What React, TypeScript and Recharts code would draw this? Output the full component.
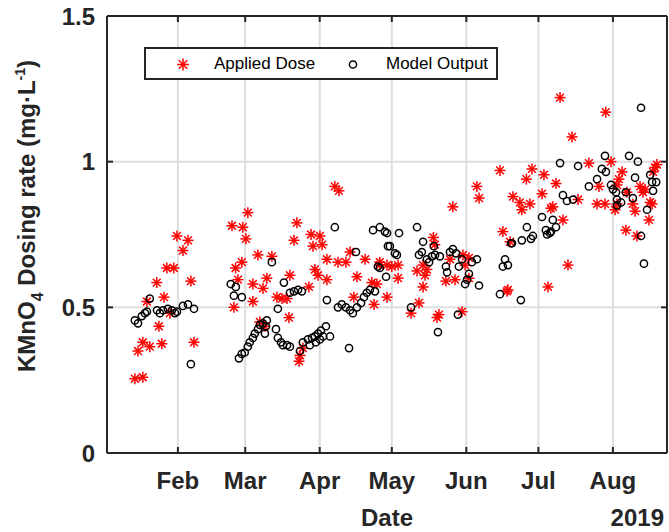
import React from 'react';
import { ScatterChart, Scatter, XAxis, YAxis, CartesianGrid, Legend, ReferenceLine } from 'recharts';

const FONT = '"Liberation Sans", Arial, Helvetica, sans-serif';
const INK = '#262626';

// x = day of year 2019, month ticks on the 1st
const MONTH_TICKS = [32, 60, 91, 121, 152, 182, 213];
const MONTH_LABELS = ['Feb', 'Mar', 'Apr', 'May', 'Jun', 'Jul', 'Aug'];
const DAY_RANGE: [number, number] = [2.5, 235.5];
const DOSE_TICKS = [0, 0.5, 1, 1.5];

// [day, mg/L]
const APPLIED_DOSE: [number, number][] = [
  [14.1, 0.255], [17.4, 0.26], [15.4, 0.35], [17.4, 0.38], [20.3, 0.365], [25.3, 0.375],
  [24.1, 0.435], [19.1, 0.52], [23.2, 0.585], [26.2, 0.535], [27.4, 0.635], [30.3, 0.635],
  [31.6, 0.745], [36.2, 0.73], [34.1, 0.695], [37.4, 0.59], [38.7, 0.38], [28.7, 0.48],
  [54.5, 0.78], [59.0, 0.775], [61.1, 0.825], [60.3, 0.735], [81.5, 0.79], [80.3, 0.73],
  [97.3, 0.915], [99.0, 0.9], [56.0, 0.635], [58.6, 0.655], [57.0, 0.595], [55.3, 0.5],
  [63.2, 0.58], [65.3, 0.68], [63.2, 0.52], [67.4, 0.565], [69.0, 0.6], [71.1, 0.675],
  [66.1, 0.45], [68.2, 0.435], [73.2, 0.535], [75.3, 0.53], [77.4, 0.53], [78.6, 0.61],
  [78.2, 0.465], [82.8, 0.335], [82.4, 0.315], [84.0, 0.36], [86.5, 0.57], [89.0, 0.63],
  [90.3, 0.61], [87.4, 0.75], [91.1, 0.745], [92.0, 0.715], [88.2, 0.71], [94.0, 0.595],
  [94.0, 0.665], [98.6, 0.655], [101.9, 0.655], [103.6, 0.69], [106.5, 0.605], [109.9, 0.665],
  [112.7, 0.585], [114.8, 0.58], [105.2, 0.535], [113.6, 0.51], [116.0, 0.655], [119.0, 0.535],
  [116, 0.645], [119, 0.645], [121, 0.64], [123.6, 0.645], [123.6, 0.6], [131.5, 0.625],
  [134, 0.645], [135.6, 0.63], [134.8, 0.61], [138.3, 0.74], [138.9, 0.715], [134, 0.57],
  [132.3, 0.515], [129, 0.48], [140.6, 0.475], [139.8, 0.465], [143.5, 0.59], [147.3, 0.595],
  [145.2, 0.665], [150.6, 0.68], [153.1, 0.67], [151.5, 0.645], [150.2, 0.485], [153.1, 0.6],
  [146.4, 0.845], [156.4, 0.915], [157.3, 0.875], [166, 0.97], [167.2, 0.76], [170.2, 0.725],
  [168.9, 0.555], [169.3, 0.56], [171.4, 0.88], [174.3, 0.86], [175.1, 0.835], [177, 0.94],
  [178.5, 0.855], [179.3, 0.975], [183.5, 0.89], [184.3, 0.955], [186, 0.57], [187.2, 0.84],
  [188, 0.845], [189.3, 0.925], [191, 1.22], [192.2, 0.8], [194.3, 0.645], [196, 1.085],
  [198.5, 0.87], [203, 0.995], [206.4, 0.855], [207.2, 0.915], [209.7, 0.855], [210, 1.17],
  [212.2, 1.0], [213.9, 0.835], [214.7, 0.855], [214.7, 0.92], [215.5, 0.94], [216.8, 0.965],
  [218.4, 0.765], [218.8, 0.895], [221.3, 0.855], [222.2, 0.83], [223, 0.745], [224.3, 0.915],
  [225.5, 0.895], [226.4, 0.905], [228, 0.8], [228.5, 0.86], [229.3, 0.855], [229.7, 0.965],
  [230.5, 0.98], [231.3, 0.99],
];

const MODEL_OUTPUT: [number, number][] = [
  [14.1, 0.455], [15.4, 0.445], [17, 0.47], [18.3, 0.48], [19.1, 0.485], [20.3, 0.53],
  [23.3, 0.49], [24.5, 0.48], [25.8, 0.49], [27.8, 0.495], [29.5, 0.49], [30.8, 0.48],
  [31.6, 0.485], [34.1, 0.505], [36.2, 0.51], [38.7, 0.495], [37.4, 0.305],
  [54, 0.58], [56.1, 0.57], [55.3, 0.54], [58.6, 0.535], [57.4, 0.325], [58.6, 0.34],
  [59.8, 0.345], [61.1, 0.365], [61.9, 0.38], [63.2, 0.395], [64, 0.41], [65.3, 0.425],
  [66.1, 0.44], [67.4, 0.445], [69, 0.455], [68.2, 0.41], [68.6, 0.435], [71.1, 0.655],
  [72.8, 0.425], [73.6, 0.395], [74.9, 0.38], [75.7, 0.37], [77.4, 0.37], [78.6, 0.365],
  [73.6, 0.495], [76.1, 0.585], [78.6, 0.55], [80.3, 0.555], [82, 0.56], [83.6, 0.555],
  [82.8, 0.35], [84, 0.38], [86.1, 0.39], [87.8, 0.395], [89, 0.4], [90.3, 0.41],
  [91.5, 0.42], [93.6, 0.435], [86.9, 0.37], [89.4, 0.38], [91.1, 0.39], [92.4, 0.4],
  [95.3, 0.4], [94, 0.525], [97.3, 0.775], [98.6, 0.5], [100.2, 0.51], [101.9, 0.5],
  [103.6, 0.49], [104.8, 0.48], [103.2, 0.36], [106.1, 0.69], [106.5, 0.5], [108.2, 0.515],
  [109.4, 0.535], [110.6, 0.55], [111.9, 0.56], [114, 0.555], [115.2, 0.64], [118.6, 0.605],
  [119.4, 0.71], [113.2, 0.765], [116, 0.775], [118.1, 0.76], [119, 0.755], [124, 0.755],
  [120.2, 0.71], [122.3, 0.685], [123.1, 0.68], [116, 0.635],
  [131.5, 0.775], [134, 0.725], [132.3, 0.68], [133.5, 0.69], [135.6, 0.665], [136.5, 0.655],
  [137.7, 0.675], [138.5, 0.71], [139, 0.68], [141, 0.675], [143.5, 0.64], [144, 0.62],
  [145.2, 0.69], [146.4, 0.7], [147.7, 0.685], [148.9, 0.64], [150.2, 0.665], [153.1, 0.615],
  [154.3, 0.655], [156.4, 0.665], [157.3, 0.575], [151.5, 0.58], [152.3, 0.595], [129, 0.5],
  [140.2, 0.415], [148.5, 0.475], [168.1, 0.665], [167.2, 0.64], [169.3, 0.645], [166, 0.545],
  [174.7, 0.525], [170.6, 0.72], [171, 0.72], [175.1, 0.73], [177.2, 0.775], [178.9, 0.735],
  [179.7, 0.745], [183.5, 0.81], [185.1, 0.765], [185.6, 0.75], [186.8, 0.755], [187.2, 0.76],
  [188, 0.8], [189.3, 0.775], [191, 0.995], [192.2, 0.885], [193.9, 0.865], [196.4, 0.87],
  [198.5, 0.985], [203, 0.915], [206.4, 0.94], [208.4, 0.975], [210.1, 0.965], [209.7, 1.02],
  [212.2, 0.92], [213, 0.905], [214.3, 0.895], [214.7, 0.87], [216.4, 0.86], [214.7, 0.85],
  [218.4, 0.895], [219.7, 1.02], [221.3, 0.875], [222.2, 0.945], [223.4, 1.0], [224.7, 1.185],
  [224.7, 0.745], [225.9, 0.65], [227.2, 0.835], [228.5, 0.955], [229.3, 0.93], [229.7, 0.9],
  [231, 0.93],
];

const appliedPts = APPLIED_DOSE.map(([day, value]) => ({ day, value }));
const modelPts = MODEL_OUTPUT.map(([day, value]) => ({ day, value }));

// plot box edges (chart margins + axis sizes)
const PLOT_TOP = 16;
const PLOT_RIGHT = 667;
const TICK_LEN = 6;

const StarMark = ({ cx, cy, r = 5.5 }: any) => {
  const d = r * 0.707;
  return (
    <g stroke="#ff0000" strokeWidth={1.5}>
      <line x1={cx - r} y1={cy} x2={cx + r} y2={cy} />
      <line x1={cx} y1={cy - r} x2={cx} y2={cy + r} />
      <line x1={cx - d} y1={cy - d} x2={cx + d} y2={cy + d} />
      <line x1={cx - d} y1={cy + d} x2={cx + d} y2={cy - d} />
    </g>
  );
};

const CircleMark = ({ cx, cy }: any) => (
  <circle cx={cx} cy={cy} r={3.6} fill="none" stroke="#000" strokeWidth={1.5} />
);

const LegendBox = () => (
  <div style={{
    width: 354, height: 33, boxSizing: 'border-box', border: `2.5px solid ${INK}`,
    background: '#fff', position: 'relative', fontFamily: FONT, fontSize: 17, color: '#000',
  }}>
    <svg width={354} height={30} style={{ position: 'absolute', left: -2.5, top: -1 }}>
      <StarMark cx={39} cy={16.5} r={6} />
      <CircleMark cx={209} cy={16.5} />
    </svg>
    <span style={{ position: 'absolute', left: 68, top: 5, lineHeight: '20px' }}>Applied Dose</span>
    <span style={{ position: 'absolute', left: 240, top: 5, lineHeight: '20px' }}>Model Output</span>
  </div>
);

const labelStyle = { fontSize: 24, fontWeight: 'bold' as const, fill: INK, fontFamily: FONT };

// month label plus inward ticks on bottom and top edges
const MonthTick = ({ x, y, payload }: any) => {
  const axisY = y - 19;
  return (
    <g>
      <line x1={x} x2={x} y1={axisY} y2={axisY - TICK_LEN} stroke={INK} strokeWidth={2} />
      <line x1={x} x2={x} y1={PLOT_TOP} y2={PLOT_TOP + TICK_LEN} stroke={INK} strokeWidth={2} />
      <text x={x} y={y} dy="0.71em" textAnchor="middle" {...labelStyle}>
        {MONTH_LABELS[MONTH_TICKS.indexOf(payload.value)]}
      </text>
    </g>
  );
};

// dose label plus inward ticks on left and right edges
const DoseTick = ({ x, y, payload }: any) => {
  const axisX = x + 12;
  return (
    <g>
      <line x1={axisX} x2={axisX + TICK_LEN} y1={y} y2={y} stroke={INK} strokeWidth={2} />
      <line x1={PLOT_RIGHT} x2={PLOT_RIGHT - TICK_LEN} y1={y} y2={y} stroke={INK} strokeWidth={2} />
      <text x={x} y={y} dy="0.355em" textAnchor="end" {...labelStyle}>{String(payload.value)}</text>
    </g>
  );
};

export default function App() {
  return (
    <div style={{ position: 'absolute', left: 0, top: 0, width: 669, height: 532, background: '#fff', fontFamily: FONT }}>
      <ScatterChart width={669} height={532} margin={{ top: PLOT_TOP, right: 2, bottom: 39, left: 47 }}>
        <CartesianGrid xAxisId="x" yAxisId="y" stroke="#dedede" strokeWidth={2} />
        <Legend
          layout="horizontal" verticalAlign="middle" content={() => <LegendBox />}
          wrapperStyle={{ left: 144, top: 47, width: 354, height: 33 }}
        />
        <Scatter name="Applied Dose" data={appliedPts} dataKey="value" xAxisId="x" yAxisId="y"
          shape={StarMark} isAnimationActive={false} />
        <Scatter name="Model Output" data={modelPts} dataKey="value" xAxisId="x" yAxisId="y"
          shape={CircleMark} isAnimationActive={false} />
        <ReferenceLine xAxisId="x" yAxisId="y" y={1.5} stroke={INK} strokeWidth={2} />
        <ReferenceLine xAxisId="x" yAxisId="y" x={DAY_RANGE[1]} stroke={INK} strokeWidth={2} />
        <XAxis
          xAxisId="x" dataKey="day" type="number" domain={DAY_RANGE} ticks={MONTH_TICKS} interval={0}
          tickLine={false} axisLine={{ stroke: INK, strokeWidth: 2 }} height={40}
          tickSize={6} tickMargin={13} tick={MonthTick}
        />
        <YAxis
          yAxisId="y" type="number" domain={[0, 1.5]} ticks={DOSE_TICKS} interval={0}
          tickLine={false} axisLine={{ stroke: INK, strokeWidth: 2 }} width={60}
          tickSize={6} tickMargin={6} tick={DoseTick}
        />
      </ScatterChart>
      <div style={{
        position: 'absolute', left: 28, top: 216, transform: 'translate(-50%, -50%) rotate(-90deg)',
        whiteSpace: 'nowrap', fontSize: 24, fontWeight: 'bold', color: INK, lineHeight: '28px',
      }}>
        KMnO<span style={{ fontSize: 16, position: 'relative', top: 8 }}>4</span> Dosing rate (mg·L
        <span style={{ fontSize: 14, position: 'relative', top: -10 }}>-1</span>)
      </div>
      <div style={{
        position: 'absolute', left: 387, top: 518, transform: 'translate(-50%, -50%)',
        fontSize: 24, fontWeight: 'bold', color: INK, whiteSpace: 'nowrap', lineHeight: '28px',
      }}>Date</div>
      <div style={{
        position: 'absolute', right: 5, top: 518, transform: 'translateY(-50%)',
        fontSize: 24, fontWeight: 'bold', color: INK, whiteSpace: 'nowrap', lineHeight: '28px',
      }}>2019</div>
    </div>
  );
}
